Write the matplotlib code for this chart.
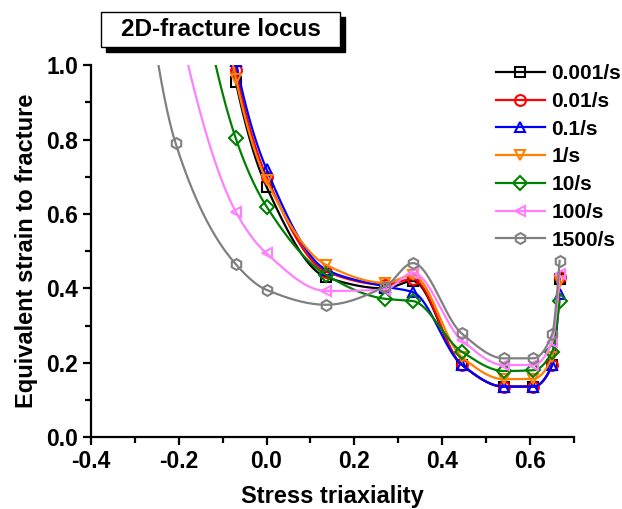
import numpy as np
import matplotlib
matplotlib.use("Agg")
import matplotlib.pyplot as plt
from matplotlib.patches import Rectangle
from matplotlib.ticker import MultipleLocator

plt.rcParams['font.family'] = ['Liberation Sans', 'DejaVu Sans']
plt.rcParams['font.weight'] = 'bold'

# stress triaxiality values (points above 1.0 lie outside the view)
x_common = [-0.207, -0.07, 0.0, 0.136, 0.27, 0.333, 0.444, 0.54, 0.607, 0.65, 0.667]
x_gray = [-0.333] + x_common

y_0001 = [2.4, 0.955, 0.673, 0.43, 0.40, 0.42, 0.195, 0.136, 0.136, 0.194, 0.425]
y_001 = [2.5, 0.987, 0.70, 0.445, 0.41, 0.425, 0.195, 0.136, 0.136, 0.194, 0.43]
y_01 = [2.6, 1.01, 0.72, 0.45, 0.405, 0.39, 0.195, 0.136, 0.136, 0.194, 0.385]
y_1 = [2.4, 0.964, 0.69, 0.463, 0.415, 0.435, 0.216, 0.156, 0.157, 0.216, 0.42]
y_10 = [1.6, 0.803, 0.62, 0.436, 0.372, 0.366, 0.23, 0.178, 0.18, 0.23, 0.365]
y_100 = [1.15, 0.606, 0.494, 0.393, 0.397, 0.442, 0.261, 0.194, 0.194, 0.257, 0.44]
y_1500 = [1.8, 0.79, 0.465, 0.396, 0.356, 0.405, 0.468, 0.279, 0.212, 0.212, 0.277, 0.474]

labels = ['0.001/s', '0.01/s', '0.1/s', '1/s', '10/s', '100/s', '1500/s']
colors = ['#000000', '#FF0000', '#0000FF', '#FF8000', '#008000', '#FF80FF', '#808080']
markers = ['s', 'o', '^', 'v', 'D', '<', 'h']


def pchip(x, y, xs):
    x = np.asarray(x, float)
    y = np.asarray(y, float)
    h = np.diff(x)
    s = np.diff(y) / h
    n = len(x)
    d = np.zeros(n)
    for k in range(1, n - 1):
        if s[k - 1] * s[k] > 0:
            w1 = 2 * h[k] + h[k - 1]
            w2 = h[k] + 2 * h[k - 1]
            d[k] = (w1 + w2) / (w1 / s[k - 1] + w2 / s[k])

    def end(h0, h1, s0, s1):
        dd = ((2 * h0 + h1) * s0 - h0 * s1) / (h0 + h1)
        if np.sign(dd) != np.sign(s0):
            dd = 0.0
        elif np.sign(s0) != np.sign(s1) and abs(dd) > abs(3 * s0):
            dd = 3 * s0
        return dd

    d[0] = end(h[0], h[1], s[0], s[1])
    d[-1] = end(h[-1], h[-2], s[-1], s[-2])
    idx = np.clip(np.searchsorted(x, xs) - 1, 0, n - 2)
    t = (xs - x[idx]) / h[idx]
    h00 = 2 * t**3 - 3 * t**2 + 1
    h10 = t**3 - 2 * t**2 + t
    h01 = -2 * t**3 + 3 * t**2
    h11 = t**3 - t**2
    return h00 * y[idx] + h10 * h[idx] * d[idx] + h01 * y[idx + 1] + h11 * h[idx] * d[idx + 1]


fig = plt.figure(figsize=(6.22, 5.09), dpi=100)
ax = fig.add_axes((0.146, 0.141, 0.777, 0.731))

series = [y_0001, y_001, y_01, y_1, y_10, y_100, y_1500]
for i, ys in enumerate(series):
    xs = x_gray if i == 6 else x_common
    ms = 6.8 if markers[i] == 'D' else 7.8
    xf = np.linspace(xs[0], xs[-1], 800)
    ax.plot(xf, pchip(xs, ys, xf), color=colors[i], lw=1.6, zorder=2 + i)
    ax.plot(xs, ys, ls='none', marker=markers[i], ms=ms,
            mfc='none', mec=colors[i], mew=1.5, zorder=2 + i)
    ax.plot([], [], color=colors[i], lw=1.6, marker=markers[i], ms=ms,
            mfc='none', mec=colors[i], mew=1.5, label=labels[i])

ax.set_xlim(-0.4, 0.7)
ax.set_ylim(0, 1.0)
ax.xaxis.set_major_locator(MultipleLocator(0.2))
ax.xaxis.set_minor_locator(MultipleLocator(0.1))
ax.yaxis.set_major_locator(MultipleLocator(0.2))
ax.yaxis.set_minor_locator(MultipleLocator(0.1))
ax.xaxis.set_major_formatter(plt.FuncFormatter(lambda v, p: f'{v:.1f}'))
ax.yaxis.set_major_formatter(plt.FuncFormatter(lambda v, p: f'{v:.1f}'))
ax.spines['top'].set_visible(False)
ax.spines['right'].set_visible(False)
ax.spines['left'].set_linewidth(1.6)
ax.spines['bottom'].set_linewidth(1.6)
ax.tick_params(which='major', direction='out', length=6, width=1.6, labelsize=16.5, pad=3)
ax.tick_params(which='minor', direction='out', length=4, width=1.6)
ax.set_xlabel('Stress triaxiality', fontsize=17, fontweight='bold', labelpad=9)
ax.set_ylabel('Equivalent strain to fracture', fontsize=17, fontweight='bold', labelpad=6)

ax.legend(loc='upper left', bbox_to_anchor=(0.797, 0.874), bbox_transform=fig.transFigure,
          frameon=False, fontsize=15, borderpad=0, borderaxespad=0, handlelength=2.35,
          handletextpad=0.33, labelspacing=0.42)

# title box with shadow
fig.patches.append(Rectangle((0.1704, 0.8978), 0.3842, 0.0688, transform=fig.transFigure,
                             facecolor='black', edgecolor='black', zorder=1))
fig.patches.append(Rectangle((0.1624, 0.9077), 0.3842, 0.0688, transform=fig.transFigure,
                             facecolor='white', edgecolor='black', lw=1.0, zorder=2))
fig.text(0.3545, 0.942, '2D-fracture locus', ha='center', va='center',
         fontsize=17.5, fontweight='bold', zorder=3)

fig.savefig('out.png', dpi=100)
